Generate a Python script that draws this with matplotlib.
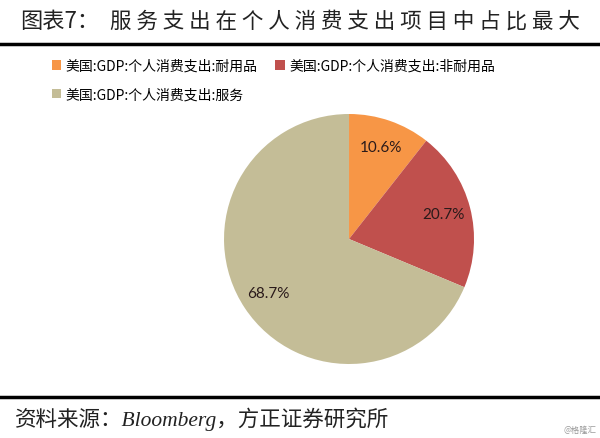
import matplotlib.pyplot as plt
from matplotlib.lines import Line2D
from matplotlib.patches import Patch

plt.rcParams['font.family'] = ['Noto Sans CJK SC', 'DejaVu Sans']

labels = ['美国:GDP:个人消费支出:耐用品',
          '美国:GDP:个人消费支出:非耐用品',
          '美国:GDP:个人消费支出:服务']
shares = [10.6, 20.7, 68.7]
colors = ['#F79646', '#C0504D', '#C4BD97']

fig = plt.figure(figsize=(6, 4.39), dpi=100)

# title and rules
fig.text(0.033, 0.95, '图表7：', fontsize=16, va='center', ha='left',
         color='#222222')
fig.text(0.183, 0.95, ' '.join('服务支出在个人消费支出项目中占比最大'),
         fontsize=15.5, va='center', ha='left', color='#222222')
fig.add_artist(Line2D([0, 1], [0.897, 0.897], color='black', lw=2.5))
fig.add_artist(Line2D([0, 1], [0.093, 0.093], color='black', lw=2.5))
fig.text(0.025, 0.045, '资料来源：Bloomberg，方正证券研究所',
         fontsize=15.5, style='italic', va='center', ha='left',
         family=['Liberation Serif', 'Noto Sans CJK SC'], color='#222222')
fig.text(0.995, 0.02, '@格隆汇', fontsize=6, color='#999999',
         ha='right', va='center')

# pie
r = 125 / 600
ax = fig.add_axes([0.5817 - r, 0.4533 - r * 600 / 439, 2 * r, 2 * r * 600 / 439])
wedges, _, autotexts = ax.pie(shares, colors=colors, startangle=90,
                              counterclock=False, autopct='%.1f%%',
                              pctdistance=0.78,
                              wedgeprops=dict(linewidth=0),
                              textprops=dict(fontsize=11, color='#2a1a1a',
                                             family=['Lato', 'DejaVu Sans']))
ax.set_xlim(-1, 1)
ax.set_ylim(-1, 1)
ax.set_aspect('equal')

handles = [Patch(facecolor=c, edgecolor='none') for c in colors]
fig.legend(handles[:2], labels[:2], loc='center left',
           bbox_to_anchor=(0.065, 0.848), ncol=2, frameon=False,
           fontsize=10, handlelength=0.7, handleheight=0.7,
           handletextpad=0.3, columnspacing=1.3)
fig.legend(handles[2:], labels[2:], loc='center left',
           bbox_to_anchor=(0.065, 0.783), frameon=False,
           fontsize=10, handlelength=0.7, handleheight=0.7,
           handletextpad=0.3)

fig.savefig('out.png', dpi=100)
